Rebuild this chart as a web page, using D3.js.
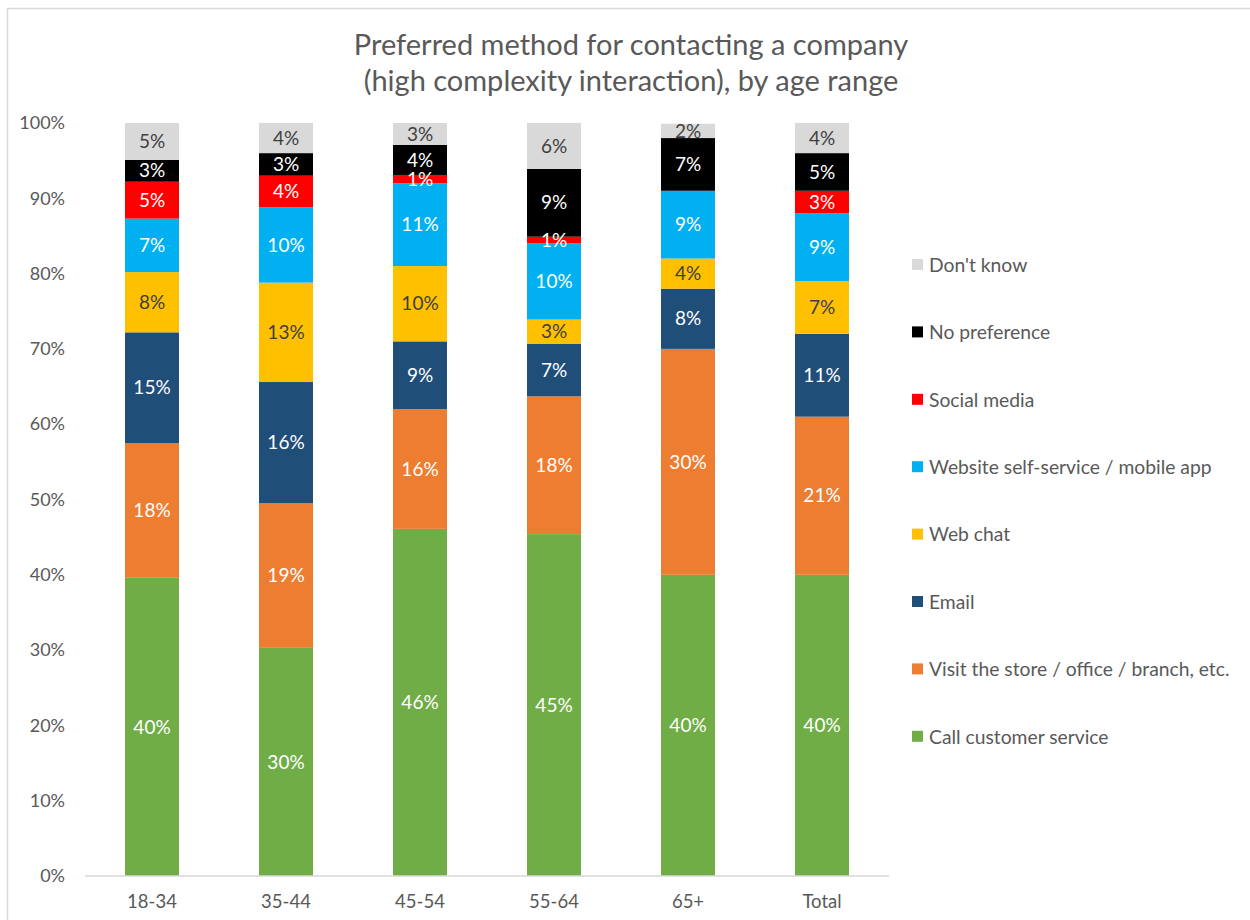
<!DOCTYPE html>
<html>
<head>
<meta charset="utf-8">
<script src="https://cdn.jsdelivr.net/npm/d3@7"></script>
<style>
  body { margin: 0; background: #fff; }
  svg { display: block; }
  text { font-family: Lato, "Open Sans", sans-serif; }
</style>
</head>
<body>
<svg id="chart" width="1250" height="920"></svg>
<script>
// Age ranges on the x axis
const categories = ["18-34", "35-44", "45-54", "55-64", "65+", "Total"];

// Series in stacking order (bottom to top), shares in percent
const seriesNames = [
  "Call customer service",
  "Visit the store / office / branch, etc.",
  "Email",
  "Web chat",
  "Website self-service / mobile app",
  "Social media",
  "No preference",
  "Don't know"
];
const callCustomerService = [39.6, 30.3, 46.1, 45.4, 40.0, 40.0];
const visitStore          = [17.9, 19.2, 15.9, 18.3, 30.0, 21.0];
const email               = [14.7, 16.1,  9.0,  7.0,  8.0, 11.0];
const webChat             = [ 8.0, 13.2, 10.0,  3.2,  4.0,  7.0];
const websiteSelfService  = [ 7.1, 10.0, 11.0, 10.1,  9.0,  9.0];
const socialMedia         = [ 4.9,  4.2,  1.1,  0.9,  0.0,  3.0];
const noPreference        = [ 2.9,  3.0,  4.0,  9.0,  7.0,  5.0];
const dontKnow            = [ 4.9,  4.0,  2.9,  6.1,  1.9,  4.0];

const seriesValues = [callCustomerService, visitStore, email, webChat,
                      websiteSelfService, socialMedia, noPreference, dontKnow];
const seriesColors = ["#70ad47", "#ed7d31", "#1f4e79", "#ffc000",
                      "#00b0f0", "#ff0000", "#000000", "#d9d9d9"];
const labelColors  = ["#fff", "#fff", "#fff", "#404040",
                      "#fff", "#fff", "#fff", "#404040"];
const yTicks = [0, 10, 20, 30, 40, 50, 60, 70, 80, 90, 100];

const svg = d3.select("#chart");

// chart frame
svg.append("rect")
  .attr("x", 7.5).attr("y", 8.5).attr("width", 1260).attr("height", 930)
  .attr("fill", "none").attr("stroke", "#d9d9d9").attr("stroke-width", 1.5);

// title
svg.append("text")
  .attr("x", 631).attr("y", 55)
  .attr("text-anchor", "middle").attr("font-size", 29).attr("fill", "#595959")
  .text("Preferred method for contacting a company");
svg.append("text")
  .attr("x", 631).attr("y", 91)
  .attr("text-anchor", "middle").attr("font-size", 29).attr("fill", "#595959")
  .text("(high complexity interaction), by age range");

const x = d3.scaleBand()
  .domain(categories)
  .range([85, 889])
  .paddingInner(0.597)
  .paddingOuter(0.2985);

const y = d3.scaleLinear().domain([0, 100]).range([876, 123]);

// build rows for the stack
const rows = categories.map((c, i) => {
  const r = { cat: c };
  seriesNames.forEach((s, k) => { r[s] = seriesValues[k][i]; });
  return r;
});
const stacked = d3.stack().keys(seriesNames)(rows);

// y axis labels
const yAxis = d3.axisLeft(y)
  .tickValues(yTicks)
  .tickFormat(d => d + "%")
  .tickSize(0)
  .tickPadding(0);
const gy = svg.append("g").attr("transform", "translate(65,0)").call(yAxis);
gy.select(".domain").remove();
gy.selectAll("text")
  .attr("font-size", 18).attr("fill", "#595959")
  .attr("font-family", "Lato, 'Open Sans', sans-serif");

// bars
stacked.forEach((layer, k) => {
  const g = svg.append("g");
  g.selectAll("rect")
    .data(layer.filter(d => d[1] - d[0] > 0))
    .join("rect")
    .attr("x", d => x(d.data.cat))
    .attr("width", x.bandwidth())
    .attr("y", d => y(d[1]))
    .attr("height", d => y(d[0]) - y(d[1]))
    .attr("fill", seriesColors[k]);
});

// x axis
const xAxis = d3.axisBottom(x).tickSize(0).tickPadding(19);
const gx = svg.append("g").attr("transform", "translate(0,876)").call(xAxis);
gx.select(".domain").attr("stroke", "#d9d9d9").attr("stroke-width", 1.5)
  .attr("d", "M85,0H889");
gx.selectAll("text")
  .attr("font-size", 18.5).attr("fill", "#595959")
  .attr("font-family", "Lato, 'Open Sans', sans-serif");

// data labels
stacked.forEach((layer, k) => {
  svg.append("g").selectAll("text")
    .data(layer.filter(d => d[1] - d[0] > 0))
    .join("text")
    .attr("x", d => x(d.data.cat) + x.bandwidth() / 2)
    .attr("y", d => (y(d[0]) + y(d[1])) / 2)
    .attr("dy", "0.35em")
    .attr("text-anchor", "middle")
    .attr("font-size", 19)
    .attr("fill", labelColors[k])
    .text(d => Math.round(d[1] - d[0]) + "%");
});

// legend, top entry is the last series
const legendOrder = seriesNames.map((s, k) => k).reverse();
const legend = svg.append("g");
legendOrder.forEach((k, i) => {
  const ly = 265 + i * 67.4;
  legend.append("rect")
    .attr("x", 912).attr("y", ly - 6).attr("width", 11).attr("height", 11)
    .attr("fill", seriesColors[k]);
  legend.append("text")
    .attr("x", 929).attr("y", ly).attr("dy", "0.35em")
    .attr("font-size", 19.3).attr("fill", "#595959")
    .text(seriesNames[k]);
});
</script>
</body>
</html>
